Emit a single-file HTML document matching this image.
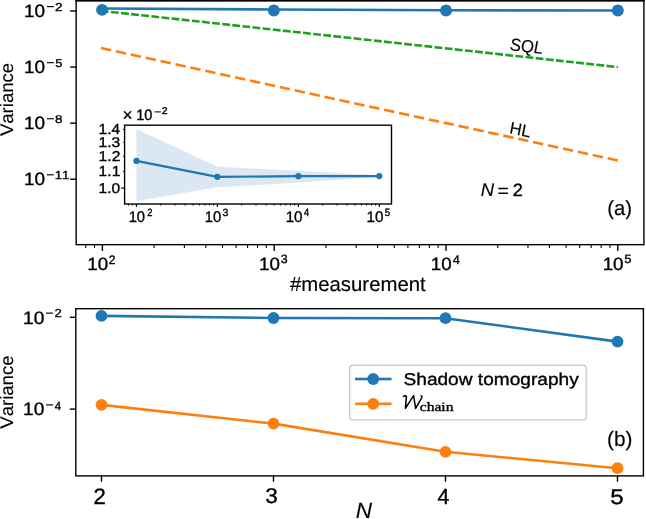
<!DOCTYPE html>
<html><head><meta charset="utf-8"><style>
html,body{margin:0;padding:0;background:#fff;overflow:hidden;font-family:"Liberation Sans",sans-serif;}
svg{display:block;will-change:transform;}
text{fill:#000;font-kerning:none;text-rendering:geometricPrecision;stroke:#000;stroke-width:0.35px;}
</style></head><body>
<svg width="646" height="519" viewBox="0 0 646 519">
<rect x="0" y="0" width="646" height="519" fill="#fff"/>
<line x1="102.40" y1="11.00" x2="617.80" y2="67.07" stroke="#1fa01f" stroke-width="2.6" stroke-dasharray="7.846 2.327" stroke-dashoffset="1.609"/>
<line x1="101.00" y1="48.08" x2="617.80" y2="160.52" stroke="#ff7f0e" stroke-width="2.6" stroke-dasharray="10.388 4.861"/>
<polyline points="102.20,8.45 274.00,9.50 446.00,10.30 617.85,10.45" fill="none" stroke="#1f77b4" stroke-width="2.6" stroke-linejoin="round" />
<circle cx="102.05" cy="9.85" r="5.95" fill="#1f77b4"/>
<circle cx="273.85" cy="10.55" r="5.95" fill="#1f77b4"/>
<circle cx="446.00" cy="10.45" r="5.95" fill="#1f77b4"/>
<circle cx="617.85" cy="10.45" r="5.95" fill="#1f77b4"/>
<rect x="76.15" y="0.50" width="567.75" height="244.15" fill="none" stroke="#000" stroke-width="1.4"/>
<rect x="75.4" y="-1" width="569.2" height="2.55" fill="#000"/>
<rect x="85.20" y="244.65" width="1.10" height="3.30" fill="#000"/>
<rect x="93.99" y="244.65" width="1.10" height="3.30" fill="#000"/>
<rect x="101.70" y="244.65" width="1.40" height="6.20" fill="#000"/>
<rect x="153.57" y="244.65" width="1.10" height="3.30" fill="#000"/>
<rect x="183.82" y="244.65" width="1.10" height="3.30" fill="#000"/>
<rect x="205.28" y="244.65" width="1.10" height="3.30" fill="#000"/>
<rect x="221.93" y="244.65" width="1.10" height="3.30" fill="#000"/>
<rect x="235.54" y="244.65" width="1.10" height="3.30" fill="#000"/>
<rect x="247.04" y="244.65" width="1.10" height="3.30" fill="#000"/>
<rect x="257.00" y="244.65" width="1.10" height="3.30" fill="#000"/>
<rect x="265.79" y="244.65" width="1.10" height="3.30" fill="#000"/>
<rect x="273.50" y="244.65" width="1.40" height="6.20" fill="#000"/>
<rect x="325.37" y="244.65" width="1.10" height="3.30" fill="#000"/>
<rect x="355.62" y="244.65" width="1.10" height="3.30" fill="#000"/>
<rect x="377.08" y="244.65" width="1.10" height="3.30" fill="#000"/>
<rect x="393.73" y="244.65" width="1.10" height="3.30" fill="#000"/>
<rect x="407.34" y="244.65" width="1.10" height="3.30" fill="#000"/>
<rect x="418.84" y="244.65" width="1.10" height="3.30" fill="#000"/>
<rect x="428.80" y="244.65" width="1.10" height="3.30" fill="#000"/>
<rect x="437.59" y="244.65" width="1.10" height="3.30" fill="#000"/>
<rect x="445.30" y="244.65" width="1.40" height="6.20" fill="#000"/>
<rect x="497.17" y="244.65" width="1.10" height="3.30" fill="#000"/>
<rect x="527.42" y="244.65" width="1.10" height="3.30" fill="#000"/>
<rect x="548.88" y="244.65" width="1.10" height="3.30" fill="#000"/>
<rect x="565.53" y="244.65" width="1.10" height="3.30" fill="#000"/>
<rect x="579.14" y="244.65" width="1.10" height="3.30" fill="#000"/>
<rect x="590.64" y="244.65" width="1.10" height="3.30" fill="#000"/>
<rect x="600.60" y="244.65" width="1.10" height="3.30" fill="#000"/>
<rect x="609.39" y="244.65" width="1.10" height="3.30" fill="#000"/>
<rect x="617.10" y="244.65" width="1.40" height="6.20" fill="#000"/>
<text x="87.27" y="269.93" textLength="20.86" lengthAdjust="spacingAndGlyphs" style="font-family:'Liberation Sans';font-size:17.796px;">10</text>
<text x="108.79" y="263.60" textLength="6.71" lengthAdjust="spacingAndGlyphs" style="font-family:'Liberation Sans';font-size:12.173px;">2</text>
<text x="259.07" y="269.93" textLength="20.86" lengthAdjust="spacingAndGlyphs" style="font-family:'Liberation Sans';font-size:17.796px;">10</text>
<text x="280.73" y="263.48" textLength="6.92" lengthAdjust="spacingAndGlyphs" style="font-family:'Liberation Sans';font-size:12.006px;">3</text>
<text x="430.87" y="269.93" textLength="20.86" lengthAdjust="spacingAndGlyphs" style="font-family:'Liberation Sans';font-size:17.796px;">10</text>
<text x="452.71" y="263.60" textLength="7.06" lengthAdjust="spacingAndGlyphs" style="font-family:'Liberation Sans';font-size:12.355px;">4</text>
<text x="602.67" y="269.93" textLength="20.86" lengthAdjust="spacingAndGlyphs" style="font-family:'Liberation Sans';font-size:17.796px;">10</text>
<text x="624.28" y="263.48" textLength="7.27" lengthAdjust="spacingAndGlyphs" style="font-family:'Liberation Sans';font-size:12.182px;">5</text>
<rect x="70.15" y="10.30" width="6.00" height="1.40" fill="#000"/>
<text x="23.96" y="17.22" textLength="21.08" lengthAdjust="spacingAndGlyphs" style="font-family:'Liberation Sans';font-size:17.938px;">10</text>
<rect x="46.90" y="6.02" width="7.00" height="1.15" fill="#000"/>
<text x="55.00" y="10.70" textLength="7.69" lengthAdjust="spacingAndGlyphs" style="font-family:'Liberation Sans';font-size:11.457px;">2</text>
<rect x="70.15" y="66.37" width="6.00" height="1.40" fill="#000"/>
<text x="23.96" y="73.29" textLength="21.08" lengthAdjust="spacingAndGlyphs" style="font-family:'Liberation Sans';font-size:17.938px;">10</text>
<rect x="46.90" y="62.10" width="7.00" height="1.15" fill="#000"/>
<text x="55.18" y="66.66" textLength="7.16" lengthAdjust="spacingAndGlyphs" style="font-family:'Liberation Sans';font-size:11.465px;">5</text>
<rect x="70.15" y="122.44" width="6.00" height="1.40" fill="#000"/>
<text x="23.96" y="129.36" textLength="21.08" lengthAdjust="spacingAndGlyphs" style="font-family:'Liberation Sans';font-size:17.938px;">10</text>
<rect x="46.90" y="118.17" width="7.00" height="1.15" fill="#000"/>
<text x="55.12" y="122.73" textLength="7.47" lengthAdjust="spacingAndGlyphs" style="font-family:'Liberation Sans';font-size:11.299px;">8</text>
<rect x="70.15" y="178.51" width="6.00" height="1.40" fill="#000"/>
<text x="23.96" y="185.43" textLength="21.08" lengthAdjust="spacingAndGlyphs" style="font-family:'Liberation Sans';font-size:17.938px;">10</text>
<rect x="46.90" y="174.24" width="7.00" height="1.15" fill="#000"/>
<text x="54.70" y="178.91" textLength="14.65" lengthAdjust="spacingAndGlyphs" style="font-family:'Liberation Sans';font-size:11.628px;">11</text>
<text x="0.00" y="0.00" textLength="73.21" lengthAdjust="spacingAndGlyphs" style="font-family:'Liberation Sans';font-size:18.200px;stroke-width:0.15px;" transform="translate(13.2,136.08) rotate(-90)">Variance</text>
<text x="289.91" y="291.30" textLength="135.84" lengthAdjust="spacingAndGlyphs" style="font-family:'Liberation Sans';font-size:20.400px;stroke-width:0.15px;">#measurement</text>
<text x="-0.47" y="0.00" textLength="33.10" lengthAdjust="spacingAndGlyphs" style="font-family:'Liberation Sans';font-size:17.600px;stroke-width:0.15px;font-style:italic;" transform="translate(510.40,50.40) skewY(6.209)">SQL</text>
<text x="-0.50" y="0.00" textLength="20.67" lengthAdjust="spacingAndGlyphs" style="font-family:'Liberation Sans';font-size:17.200px;stroke-width:0.15px;font-style:italic;" transform="translate(510.30,133.40) skewY(12.276)">HL</text>
<text x="480.83" y="195.90" textLength="13.36" lengthAdjust="spacingAndGlyphs" style="font-family:'Liberation Sans';font-size:18.314px;stroke-width:0.15px;font-style:italic;">N</text>
<text x="497.46" y="196.93" textLength="11.30" lengthAdjust="spacingAndGlyphs" style="font-family:'Liberation Sans';font-size:18.618px;stroke-width:0.15px;">=</text>
<text x="512.78" y="195.90" textLength="10.13" lengthAdjust="spacingAndGlyphs" style="font-family:'Liberation Sans';font-size:17.759px;">2</text>
<text x="607.14" y="214.86" textLength="24.82" lengthAdjust="spacingAndGlyphs" style="font-family:'Liberation Sans';font-size:20.501px;stroke-width:0.15px;">(a)</text>
<rect x="124.6" y="125.2" width="266.90" height="78.80" fill="#fff"/>
<polygon points="136.40,128.90 217.37,166.80 298.34,170.80 379.31,175.20 379.31,177.00 298.34,182.50 217.37,187.30 136.40,200.90" fill="#dbe7f2"/>
<polyline points="136.40,160.90 217.37,176.80 298.34,176.20 379.31,176.10" fill="none" stroke="#1f77b4" stroke-width="2.2" stroke-linejoin="round" />
<circle cx="136.40" cy="160.90" r="3.1" fill="#1f77b4"/>
<circle cx="217.37" cy="176.80" r="3.1" fill="#1f77b4"/>
<circle cx="298.34" cy="176.20" r="3.1" fill="#1f77b4"/>
<circle cx="379.31" cy="176.10" r="3.1" fill="#1f77b4"/>
<rect x="124.60" y="125.20" width="266.90" height="78.80" fill="none" stroke="#000" stroke-width="1.4"/>
<rect x="128.10" y="204.00" width="0.90" height="1.60" fill="#000"/>
<rect x="132.25" y="204.00" width="0.90" height="1.60" fill="#000"/>
<rect x="135.80" y="204.00" width="1.20" height="2.90" fill="#000"/>
<rect x="160.32" y="204.00" width="0.90" height="1.60" fill="#000"/>
<rect x="174.58" y="204.00" width="0.90" height="1.60" fill="#000"/>
<rect x="184.70" y="204.00" width="0.90" height="1.60" fill="#000"/>
<rect x="192.55" y="204.00" width="0.90" height="1.60" fill="#000"/>
<rect x="198.96" y="204.00" width="0.90" height="1.60" fill="#000"/>
<rect x="204.38" y="204.00" width="0.90" height="1.60" fill="#000"/>
<rect x="209.07" y="204.00" width="0.90" height="1.60" fill="#000"/>
<rect x="213.22" y="204.00" width="0.90" height="1.60" fill="#000"/>
<rect x="216.77" y="204.00" width="1.20" height="2.90" fill="#000"/>
<rect x="241.29" y="204.00" width="0.90" height="1.60" fill="#000"/>
<rect x="255.55" y="204.00" width="0.90" height="1.60" fill="#000"/>
<rect x="265.67" y="204.00" width="0.90" height="1.60" fill="#000"/>
<rect x="273.52" y="204.00" width="0.90" height="1.60" fill="#000"/>
<rect x="279.93" y="204.00" width="0.90" height="1.60" fill="#000"/>
<rect x="285.35" y="204.00" width="0.90" height="1.60" fill="#000"/>
<rect x="290.04" y="204.00" width="0.90" height="1.60" fill="#000"/>
<rect x="294.19" y="204.00" width="0.90" height="1.60" fill="#000"/>
<rect x="297.74" y="204.00" width="1.20" height="2.90" fill="#000"/>
<rect x="322.26" y="204.00" width="0.90" height="1.60" fill="#000"/>
<rect x="336.52" y="204.00" width="0.90" height="1.60" fill="#000"/>
<rect x="346.64" y="204.00" width="0.90" height="1.60" fill="#000"/>
<rect x="354.49" y="204.00" width="0.90" height="1.60" fill="#000"/>
<rect x="360.90" y="204.00" width="0.90" height="1.60" fill="#000"/>
<rect x="366.32" y="204.00" width="0.90" height="1.60" fill="#000"/>
<rect x="371.01" y="204.00" width="0.90" height="1.60" fill="#000"/>
<rect x="375.16" y="204.00" width="0.90" height="1.60" fill="#000"/>
<rect x="378.71" y="204.00" width="1.20" height="2.90" fill="#000"/>
<text x="128.68" y="221.55" textLength="16.40" lengthAdjust="spacingAndGlyphs" style="font-family:'Liberation Sans';font-size:15.395px;">10</text>
<text x="147.13" y="216.30" textLength="5.25" lengthAdjust="spacingAndGlyphs" style="font-family:'Liberation Sans';font-size:10.598px;">2</text>
<text x="204.77" y="221.55" textLength="16.51" lengthAdjust="spacingAndGlyphs" style="font-family:'Liberation Sans';font-size:15.395px;">10</text>
<text x="222.50" y="216.20" textLength="5.87" lengthAdjust="spacingAndGlyphs" style="font-family:'Liberation Sans';font-size:10.452px;">3</text>
<text x="285.64" y="221.55" textLength="16.96" lengthAdjust="spacingAndGlyphs" style="font-family:'Liberation Sans';font-size:15.395px;">10</text>
<text x="303.89" y="216.30" textLength="5.19" lengthAdjust="spacingAndGlyphs" style="font-family:'Liberation Sans';font-size:10.756px;">4</text>
<text x="366.54" y="221.55" textLength="16.96" lengthAdjust="spacingAndGlyphs" style="font-family:'Liberation Sans';font-size:15.395px;">10</text>
<text x="384.71" y="216.20" textLength="5.40" lengthAdjust="spacingAndGlyphs" style="font-family:'Liberation Sans';font-size:10.605px;">5</text>
<rect x="121.20" y="187.50" width="3.40" height="1.20" fill="#000"/>
<text x="98.62" y="192.66" textLength="21.59" lengthAdjust="spacingAndGlyphs" style="font-family:'Liberation Sans';font-size:14.124px;">1.0</text>
<rect x="122.80" y="170.99" width="1.80" height="0.90" fill="#000"/>
<text x="98.61" y="176.14" textLength="21.76" lengthAdjust="spacingAndGlyphs" style="font-family:'Liberation Sans';font-size:14.535px;">1.1</text>
<rect x="122.80" y="155.79" width="1.80" height="0.90" fill="#000"/>
<text x="98.61" y="160.94" textLength="21.78" lengthAdjust="spacingAndGlyphs" style="font-family:'Liberation Sans';font-size:14.322px;">1.2</text>
<rect x="122.80" y="141.80" width="1.80" height="0.90" fill="#000"/>
<text x="98.61" y="146.81" textLength="21.67" lengthAdjust="spacingAndGlyphs" style="font-family:'Liberation Sans';font-size:14.124px;">1.3</text>
<rect x="122.80" y="128.85" width="1.80" height="0.90" fill="#000"/>
<text x="98.63" y="134.00" textLength="21.43" lengthAdjust="spacingAndGlyphs" style="font-family:'Liberation Sans';font-size:14.535px;">1.4</text>
<text x="122.40" y="120.89" textLength="10.09" lengthAdjust="spacingAndGlyphs" style="font-family:'Liberation Sans';font-size:18.150px;">×</text>
<text x="136.19" y="119.55" textLength="16.18" lengthAdjust="spacingAndGlyphs" style="font-family:'Liberation Sans';font-size:15.113px;">10</text>
<rect x="154.60" y="111.40" width="6.30" height="1.00" fill="#000"/>
<text x="161.77" y="114.10" textLength="5.86" lengthAdjust="spacingAndGlyphs" style="font-family:'Liberation Sans';font-size:9.882px;">2</text>
<polyline points="101.50,315.90 273.50,318.00 445.50,318.20 617.50,341.60" fill="none" stroke="#1f77b4" stroke-width="2.6" stroke-linejoin="round" />
<circle cx="101.50" cy="315.90" r="5.9" fill="#1f77b4"/>
<circle cx="273.50" cy="318.00" r="5.9" fill="#1f77b4"/>
<circle cx="445.50" cy="318.20" r="5.9" fill="#1f77b4"/>
<circle cx="617.50" cy="341.60" r="5.9" fill="#1f77b4"/>
<polyline points="101.50,404.90 273.50,423.60 445.50,451.80 617.50,468.20" fill="none" stroke="#ff7f0e" stroke-width="2.6" stroke-linejoin="round" />
<circle cx="101.50" cy="404.90" r="5.9" fill="#ff7f0e"/>
<circle cx="273.50" cy="423.60" r="5.9" fill="#ff7f0e"/>
<circle cx="445.50" cy="451.80" r="5.9" fill="#ff7f0e"/>
<circle cx="617.50" cy="468.20" r="5.9" fill="#ff7f0e"/>
<rect x="75.80" y="308.70" width="567.60" height="167.20" fill="none" stroke="#000" stroke-width="1.4"/>
<rect x="100.80" y="475.90" width="1.40" height="5.80" fill="#000"/>
<text x="93.48" y="503.60" textLength="12.33" lengthAdjust="spacingAndGlyphs" style="font-family:'Liberation Sans';font-size:22.342px;">2</text>
<rect x="272.80" y="475.90" width="1.40" height="5.80" fill="#000"/>
<text x="265.34" y="503.29" textLength="12.55" lengthAdjust="spacingAndGlyphs" style="font-family:'Liberation Sans';font-size:21.327px;">3</text>
<rect x="444.80" y="475.90" width="1.40" height="5.80" fill="#000"/>
<text x="437.61" y="503.90" textLength="11.92" lengthAdjust="spacingAndGlyphs" style="font-family:'Liberation Sans';font-size:21.803px;">4</text>
<rect x="616.80" y="475.90" width="1.40" height="5.80" fill="#000"/>
<text x="610.33" y="503.99" textLength="13.49" lengthAdjust="spacingAndGlyphs" style="font-family:'Liberation Sans';font-size:21.068px;">5</text>
<rect x="69.80" y="316.60" width="6.00" height="1.40" fill="#000"/>
<text x="23.14" y="323.52" textLength="21.31" lengthAdjust="spacingAndGlyphs" style="font-family:'Liberation Sans';font-size:18.079px;">10</text>
<rect x="46.00" y="312.53" width="7.00" height="1.15" fill="#000"/>
<text x="54.64" y="316.70" textLength="7.32" lengthAdjust="spacingAndGlyphs" style="font-family:'Liberation Sans';font-size:11.601px;">2</text>
<rect x="69.80" y="408.40" width="6.00" height="1.40" fill="#000"/>
<text x="23.14" y="415.32" textLength="21.31" lengthAdjust="spacingAndGlyphs" style="font-family:'Liberation Sans';font-size:18.079px;">10</text>
<rect x="46.00" y="404.33" width="7.00" height="1.15" fill="#000"/>
<text x="54.84" y="409.60" textLength="6.40" lengthAdjust="spacingAndGlyphs" style="font-family:'Liberation Sans';font-size:11.773px;">4</text>
<text x="0.00" y="0.00" textLength="73.21" lengthAdjust="spacingAndGlyphs" style="font-family:'Liberation Sans';font-size:18.200px;stroke-width:0.15px;" transform="translate(13.2,428.73) rotate(-90)">Variance</text>
<text x="355.81" y="517.90" textLength="16.18" lengthAdjust="spacingAndGlyphs" style="font-family:'Liberation Sans';font-size:21.948px;stroke-width:0.15px;font-style:italic;">N</text>
<text x="607.11" y="446.19" textLength="25.38" lengthAdjust="spacingAndGlyphs" style="font-family:'Liberation Sans';font-size:20.823px;stroke-width:0.15px;">(b)</text>
<rect x="349.7" y="365.3" width="236.5" height="54.6" rx="3.2" ry="3.2" fill="#fff" fill-opacity="0.8" stroke="#cccccc" stroke-width="1.4"/>
<rect x="355.10" y="377.70" width="36.40" height="2.60" fill="#1f77b4"/>
<circle cx="373.2" cy="379.0" r="5.9" fill="#1f77b4"/>
<rect x="355.10" y="402.50" width="36.40" height="2.60" fill="#ff7f0e"/>
<circle cx="373.2" cy="403.8" r="5.9" fill="#ff7f0e"/>
<text x="403.53" y="384.60" textLength="175.20" lengthAdjust="spacingAndGlyphs" style="font-family:'Liberation Sans';font-size:17.100px;">Shadow tomography</text>
<path d="M403.3 397.2 C403.6 395.6 405.6 395.0 406.4 396.6 L405.4 408.4 L413.6 395.6 L415.6 408.4 L421.8 397.6 C422.2 396.4 421.6 395.6 420.6 395.8" fill="none" stroke="#000" stroke-width="1.5" stroke-linejoin="round"/>
<text x="419.81" y="410.90" textLength="33.63" lengthAdjust="spacingAndGlyphs" style="font-family:'Liberation Serif';font-size:12.968px;">chain</text>
</svg>
</body></html>
